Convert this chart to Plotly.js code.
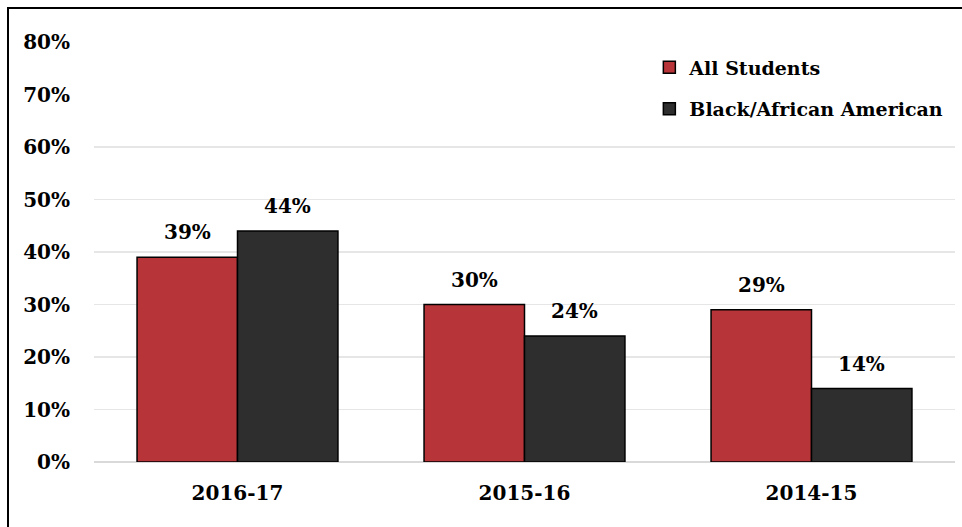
<!DOCTYPE html>
<html>
<head>
<meta charset="utf-8">
<script src="https://cdn.plot.ly/plotly-3.0.1.min.js"></script>
<style>
  html, body { margin: 0; padding: 0; background: #fff; overflow: hidden; }
  #wrap { position: relative; width: 962px; height: 527px; }
  #chart { width: 962px; height: 527px; }
  #frame { position: absolute; left: 7px; top: 7px; width: 1000px; height: 1000px;
           border: 2px solid #000; pointer-events: none; box-sizing: border-box; }
</style>
</head>
<body>
<div id="wrap">
  <div id="chart"></div>
  <div id="frame"></div>
</div>
<script>
const categories = ["2016-17", "2015-16", "2014-15"];
const seriesNames = ["All Students", "Black/African American"];
const allStudents = [39, 30, 29];
const blackAfricanAmerican = [44, 24, 14];
const tickValues = [0, 10, 20, 30, 40, 50, 60, 70, 80];
const tickLabels = ["0%", "10%", "20%", "30%", "40%", "50%", "60%", "70%", "80%"];
const gridValues = [10, 20, 30, 40, 50, 60];

const FONT = "DejaVu Serif";
const colors = ["#B73439", "#2E2E2E"];
const seriesValues = [allStudents, blackAfricanAmerican];

const traces = seriesValues.map((vals, i) => ({
  type: "bar",
  name: seriesNames[i],
  legendgroup: "g" + i,
  x: categories,
  y: vals,
  marker: { color: colors[i], line: { color: "#000", width: 1.5 } },
  hoverinfo: "skip"
}));

// invisible trace to carry the grid axis
traces.push({
  type: "scatter", x: categories, y: [0, 0, 0], yaxis: "y2",
  mode: "none", showlegend: false, hoverinfo: "skip"
});

const annotations = [];
seriesValues.forEach((vals, i) => {
  vals.forEach((v, j) => {
    annotations.push({
      x: categories[j], y: v, xref: "x", yref: "y",
      text: "<b>" + v + "%</b>", showarrow: false,
      xshift: i === 0 ? -50 : 50, yshift: 25, yanchor: "middle",
      font: { family: FONT, size: 20, color: "#000" }
    });
  });
});

const layout = {
  width: 962, height: 527,
  margin: { l: 94, r: 6.5, t: 42, b: 65 },
  paper_bgcolor: "#fff", plot_bgcolor: "rgba(0,0,0,0)",
  barmode: "group", bargap: 0.3, bargroupgap: 0,
  font: { family: FONT, size: 20, color: "#000", weight: "bold" },
  showlegend: true,
  legend: {
    x: 0.645, xanchor: "left", y: 0.985, yanchor: "top",
    traceorder: "grouped", tracegroupgap: 14,
    font: { family: FONT, size: 19, color: "#000", weight: "bold" },
    bgcolor: "rgba(0,0,0,0)"
  },
  xaxis: {
    type: "category", showgrid: false, zeroline: false, showline: false,
    ticks: "", ticklabelstandoff: 17,
    tickfont: { family: FONT, size: 20, color: "#000", weight: "bold" }
  },
  yaxis: {
    range: [0, 80], tickvals: tickValues, ticktext: tickLabels,
    showgrid: false, zeroline: true, zerolinecolor: "#D9D9D9", zerolinewidth: 2,
    showline: false, ticks: "", ticklabelstandoff: 23,
    tickfont: { family: FONT, size: 20, color: "#000", weight: "bold" }
  },
  yaxis2: {
    range: [0, 80], overlaying: "y", tickvals: gridValues,
    showgrid: true, gridcolor: "#E6E6E6", gridwidth: 1.5,
    showticklabels: false, zeroline: false, ticks: ""
  },
  annotations: annotations
};

Plotly.newPlot("chart", traces, layout, { staticPlot: true, displayModeBar: false });
</script>
</body>
</html>
